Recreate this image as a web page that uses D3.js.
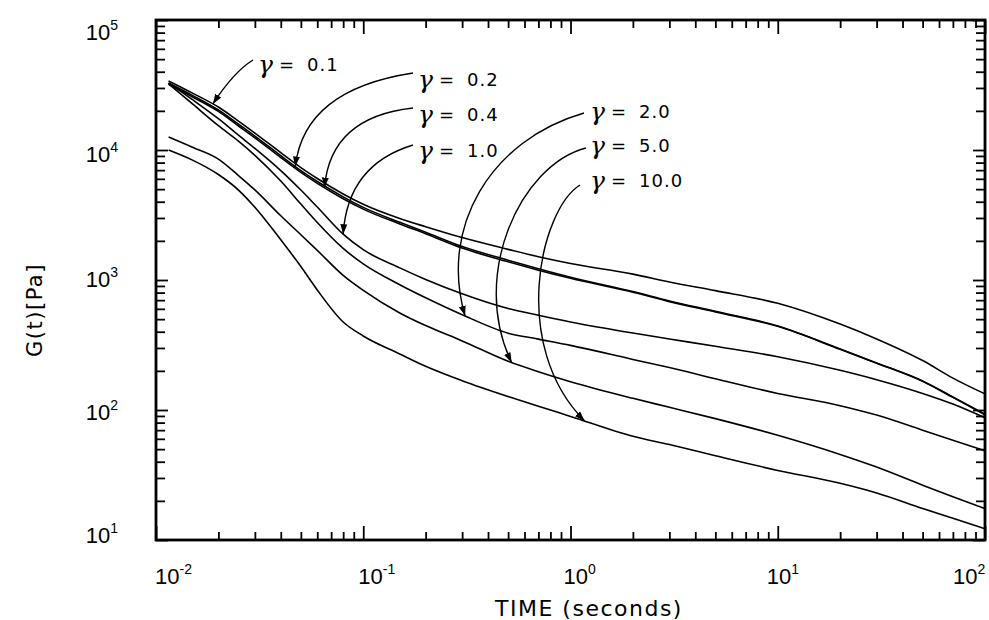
<!DOCTYPE html>
<html>
<head>
<meta charset="utf-8">
<script src="https://cdn.jsdelivr.net/npm/d3@7"></script>
<style>
  body { margin: 0; background: #fff; }
</style>
</head>
<body>
<div class="chart"></div>
<script>
const width = 989;
const height = 620;

// time grid (seconds), shared by every curve
const times = [0.0115, 0.015, 0.02, 0.025, 0.03, 0.04, 0.05, 0.06, 0.08, 0.1, 0.15, 0.2,
  0.3, 0.5, 0.7, 1, 2, 3, 5, 10, 20, 30, 50, 70, 100];

// G(t) in Pa
const g01 = [34000, 27400, 21400, 16700, 13500, 9530, 7320, 6040, 4590, 3820, 2970, 2570,
  2120, 1720, 1510, 1340, 1110, 965, 828, 662, 458, 352, 240, 176, 133];
const g02 = [32800, 26300, 20300, 15800, 12800, 9040, 6940, 5720, 4360, 3620, 2780, 2330,
  1810, 1420, 1220, 1050, 815, 690, 574, 443, 295, 230, 167, 126, 93];
const g04 = [32000, 25600, 19800, 15300, 12400, 8750, 6720, 5540, 4220, 3510, 2700, 2270,
  1760, 1380, 1190, 1030, 805, 682, 568, 440, 293, 229, 166, 125, 92];
const g10 = [32800, 24400, 17400, 13000, 10300, 6950, 4920, 3640, 2250, 1710, 1240, 1010,
  784, 604, 536, 476, 391, 352, 309, 257, 202, 171, 134, 111, 87];
const g20 = [32200, 22600, 15400, 11700, 9100, 5770, 3840, 2770, 1750, 1330, 920, 730,
  541, 390, 351, 314, 245, 212, 174, 134, 108, 91.4, 70, 58.6, 48.6];
const g50 = [12600, 10500, 8510, 6360, 4930, 3120, 2230, 1690, 1085, 832, 558, 446,
  340, 237, 197, 165, 123, 105, 85.8, 63.9, 45.5, 36.4, 26.4, 21.5, 17.4];
const g100 = [10000, 8360, 6480, 4920, 3630, 2040, 1270, 838, 475, 371, 270, 217,
  168, 127, 107, 89.3, 62.8, 54.2, 44.5, 34.3, 27.3, 23.0, 17.5, 14.7, 12.2];

const series = [g01, g02, g04, g10, g20, g50, g100];
const strains = ['0.1', '0.2', '0.4', '1.0', '2.0', '5.0', '10.0'];
// time at which each label's arrow touches its curve
const tipTimes = [0.0188, 0.047, 0.065, 0.08, 0.31, 0.52, 1.17];

const xTicks = [0.01, 0.1, 1, 10, 100];
const xExps = ['-2', '-1', '0', '1', '2'];
const yTicks = [10, 100, 1000, 10000, 100000];
const yExps = ['1', '2', '3', '4', '5'];

// layout of the labels (pixels): [x of gamma, baseline], arc start, bezier offsets
const labelPos = [[258, 71], [418, 86], [418, 121], [418, 157], [590, 118], [590, 152], [590, 187]];
const arcStart = [[253, 60], [413, 73], [413, 108], [413, 145], [584, 113], [586, 148], [580, 185]];
const arcC1 = [[-13, 8], [-72, 11], [-55, 6], [-43, 13], [-94, 27], [-66, 17], [-40, 25]];
const arcC2 = [[13, -20], [6, -52], [4, -47], [3, -47], [-26, -88], [-42, -86], [-75, -75]];

const plotLeft = 156, plotRight = 985, plotTop = 20, plotBottom = 540;

const svg = d3.select('div.chart').append('svg')
  .attr('width', width)
  .attr('height', height)
  .style('background-color', 'white');

const x = d3.scaleLog().domain([0.01, 100]).range([plotLeft, plotRight]);
const y = d3.scaleLog().domain([10, 100000]).range([plotBottom, plotTop]);

// minor ticks 2..9 in every decade
const minorOf = (lo, hi) => {
  const out = [];
  for (let d = lo; d < hi; d *= 10) {
    for (let k = 2; k <= 9; k++) out.push(d * k);
  }
  return out;
};
const xMinor = minorOf(0.01, 100);
const yMinor = minorOf(10, 100000);

const tickAxis = (axis, values, size, tx, ty) => {
  const g = svg.append('g')
    .attr('transform', `translate(${tx}, ${ty})`)
    .call(axis.tickValues(values).tickSize(-size).tickFormat(''));
  g.select('.domain').remove();
  g.selectAll('.tick line').attr('stroke', '#000').attr('stroke-width', 1.8);
};

tickAxis(d3.axisBottom(x), xMinor, 8, 0, plotBottom);
tickAxis(d3.axisBottom(x), xTicks, 14, 0, plotBottom);
tickAxis(d3.axisTop(x), xMinor, 8, 0, plotTop);
tickAxis(d3.axisTop(x), xTicks, 14, 0, plotTop);
tickAxis(d3.axisLeft(y), yMinor, 9, plotLeft, 0);
tickAxis(d3.axisLeft(y), yTicks, 12, plotLeft, 0);
tickAxis(d3.axisRight(y), yMinor, 9, plotRight, 0);
tickAxis(d3.axisRight(y), yTicks, 12, plotRight, 0);

// frame
svg.append('rect')
  .attr('x', plotLeft)
  .attr('y', plotTop)
  .attr('width', plotRight - plotLeft)
  .attr('height', plotBottom - plotTop)
  .attr('fill', 'none')
  .attr('stroke', '#000')
  .attr('stroke-width', 2.8);

// power-of-ten labels
const powLabel = (px, py, exp, anchor) => {
  const t = svg.append('text')
    .attr('x', px)
    .attr('y', py)
    .attr('text-anchor', anchor)
    .attr('font-family', 'Liberation Sans, Arial, sans-serif')
    .attr('font-size', 22)
    .attr('fill', '#000');
  t.append('tspan').text('10');
  t.append('tspan').attr('dy', -10).attr('font-size', 14).text(exp);
};

const xLabelShift = [-1, -5, -7, -11, -32];
xTicks.forEach((v, i) => powLabel(x(v) + xLabelShift[i], 584, xExps[i], 'start'));

const yLabelShift = [3, 10, 7, 12, 20];
yTicks.forEach((v, i) => powLabel(118, y(v) + yLabelShift[i], yExps[i], 'end'));

// axis titles
svg.append('text')
  .attr('x', 589)
  .attr('y', 616)
  .attr('text-anchor', 'middle')
  .attr('font-family', 'DejaVu Sans, sans-serif')
  .attr('font-size', 22)
  .attr('letter-spacing', 1.5)
  .text('TIME (seconds)');

svg.append('text')
  .attr('transform', 'translate(42, 310) rotate(-90)')
  .attr('text-anchor', 'middle')
  .attr('font-family', 'DejaVu Sans, sans-serif')
  .attr('font-size', 21)
  .attr('letter-spacing', 1.5)
  .text('G(t)[Pa]');

// curves
const line = d3.line()
  .x((d) => x(d[0]))
  .y((d) => y(d[1]))
  .curve(d3.curveMonotoneX);

svg.append('g').selectAll('path')
  .data(series)
  .enter()
  .append('path')
  .attr('d', (gs) => line(times.map((t, i) => [t, gs[i]])))
  .attr('fill', 'none')
  .attr('stroke', '#000')
  .attr('stroke-width', 1.6);

// arrow heads
svg.append('defs').append('marker')
  .attr('id', 'head')
  .attr('markerUnits', 'userSpaceOnUse')
  .attr('viewBox', '0 -4 10 8')
  .attr('refX', 10)
  .attr('refY', 0)
  .attr('markerWidth', 10)
  .attr('markerHeight', 8)
  .attr('orient', 'auto')
  .append('path')
  .attr('d', 'M0,-3.5L10,0L0,3.5Z')
  .attr('fill', '#000');

// G on a curve at time t, log-log interpolation
const valueAt = (gs, t) => {
  const lt = Math.log10(t);
  for (let i = 1; i < times.length; i++) {
    if (t <= times[i]) {
      const a = Math.log10(times[i - 1]);
      const b = Math.log10(times[i]);
      const f = (lt - a) / (b - a);
      const la = Math.log10(gs[i - 1]);
      const lb = Math.log10(gs[i]);
      return Math.pow(10, la + f * (lb - la));
    }
  }
  return gs[gs.length - 1];
};

strains.forEach((s, i) => {
  const tx = x(tipTimes[i]);
  const ty = y(valueAt(series[i], tipTimes[i]));
  const [sx, sy] = arcStart[i];
  const path = d3.path();
  path.moveTo(sx, sy);
  path.bezierCurveTo(sx + arcC1[i][0], sy + arcC1[i][1], tx + arcC2[i][0], ty + arcC2[i][1], tx, ty);
  svg.append('path')
    .attr('d', path.toString())
    .attr('fill', 'none')
    .attr('stroke', '#000')
    .attr('stroke-width', 1.4)
    .attr('marker-end', 'url(#head)');

  const [lx, ly] = labelPos[i];
  svg.append('text')
    .attr('x', lx)
    .attr('y', ly + 2)
    .attr('font-family', 'DejaVu Serif, serif')
    .attr('font-style', 'italic')
    .attr('font-size', 25)
    .text('γ');
  svg.append('text')
    .attr('x', lx + 21)
    .attr('y', ly)
    .attr('font-family', 'DejaVu Sans, sans-serif')
    .attr('font-size', 18)
    .text('=');
  svg.append('text')
    .attr('x', lx + 49)
    .attr('y', ly)
    .attr('font-family', 'DejaVu Sans, sans-serif')
    .attr('font-size', 18)
    .attr('letter-spacing', 1)
    .text(s);
});
</script>
</body>
</html>
